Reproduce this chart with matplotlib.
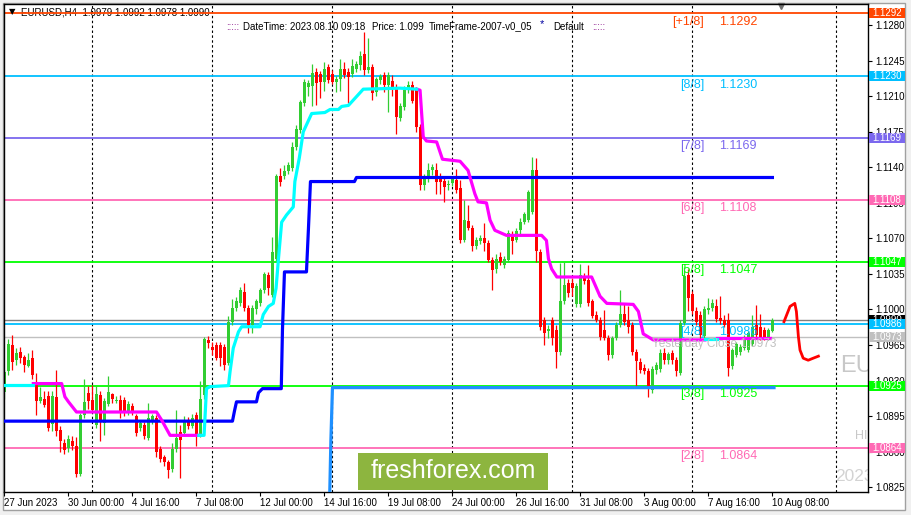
import numpy as np
import matplotlib
matplotlib.use('Agg')
import matplotlib.pyplot as plt
import matplotlib.transforms as mtransforms
from matplotlib.patches import Rectangle

# H4 candles, 27 Jun 2023 08:00 .. 10 Aug 2023 08:00
opens = [1.0919, 1.0939, 1.0965, 1.0950, 1.0958, 1.0953, 1.0944, 1.0952, 1.0927, 1.0910,
         1.0912, 1.0915, 1.0887, 1.0914, 1.0881, 1.0868, 1.0864, 1.0870, 1.0866, 1.0838,
         1.0896, 1.0918, 1.0911, 1.0886, 1.0916, 1.0888, 1.0907, 1.0917, 1.0910, 1.0911,
         1.0911, 1.0898, 1.0905, 1.0895, 1.0883, 1.0886, 1.0873, 1.0890, 1.0893, 1.0863,
         1.0855, 1.0850, 1.0843, 1.0863, 1.0879, 1.0878, 1.0891, 1.0885, 1.0896, 1.0876,
         1.0916, 1.0970, 1.0963, 1.0965, 1.0965, 1.0963, 1.0947, 1.0988, 1.1001, 1.1006,
         1.1017, 1.1001, 1.0985, 1.1000, 1.1006, 1.1019, 1.1034, 1.1014, 1.1050, 1.1131,
         1.1131, 1.1136, 1.1139, 1.1160, 1.1177, 1.1203, 1.1219, 1.1220, 1.1234, 1.1232,
         1.1224, 1.1239, 1.1232, 1.1224, 1.1227, 1.1237, 1.1234, 1.1232, 1.1237, 1.1241,
         1.1252, 1.1236, 1.1239, 1.1214, 1.1226, 1.1231, 1.1221, 1.1225, 1.1218, 1.1189,
         1.1199, 1.1216, 1.1221, 1.1216, 1.1180, 1.1123, 1.1130, 1.1137, 1.1137, 1.1131,
         1.1127, 1.1123, 1.1125, 1.1128, 1.1120, 1.1068, 1.1087, 1.1080, 1.1063, 1.1067,
         1.1070, 1.1065, 1.1049, 1.1040, 1.1052, 1.1044, 1.1049, 1.1074, 1.1068, 1.1078,
         1.1086, 1.1088, 1.1096, 1.1137, 1.1057, 1.0990, 1.0979, 1.0990, 1.0980, 1.0958,
         1.1008, 1.1026, 1.1026, 1.1005, 1.1005, 1.1032, 1.1029, 1.1008, 1.0995, 1.0990,
         1.0980, 1.0972, 1.0955, 1.0972, 1.0985, 1.0996, 1.0990, 1.0985, 1.0958, 1.0948,
         1.0942, 1.0939, 1.0921, 1.0940, 1.0941, 1.0957, 1.0950, 1.0957, 1.0950, 1.0937,
         1.0987, 1.1034, 1.1015, 1.0998, 1.0995, 1.0974, 1.0999, 1.1001, 1.1003, 1.0992,
         1.0990, 1.0990, 1.0944, 1.0955, 1.0958, 1.0962, 1.0960, 1.0966, 1.0985, 1.0983,
         1.0980, 1.0973, 1.0979]
highs = [1.0940, 1.0971, 1.0975, 1.0962, 1.0963, 1.0955, 1.0957, 1.0960, 1.0937, 1.0924,
         1.0920, 1.0920, 1.0920, 1.0940, 1.0885, 1.0872, 1.0876, 1.0875, 1.0874, 1.0898,
         1.0932, 1.0925, 1.0926, 1.0925, 1.0920, 1.0913, 1.0934, 1.0918, 1.0915, 1.0916,
         1.0914, 1.0910, 1.0908, 1.0897, 1.0891, 1.0889, 1.0908, 1.0897, 1.0896, 1.0866,
         1.0857, 1.0852, 1.0868, 1.0901, 1.0886, 1.0895, 1.0894, 1.0897, 1.0899, 1.0930,
         1.0973, 1.0974, 1.0968, 1.0968, 1.0968, 1.0966, 1.0994, 1.1010, 1.1012, 1.1022,
         1.1026, 1.1004, 1.1004, 1.1010, 1.1021, 1.1037, 1.1037, 1.1071, 1.1133, 1.1139,
         1.1142, 1.1145, 1.1165, 1.1182, 1.1206, 1.1227, 1.1226, 1.1242, 1.1238, 1.1235,
         1.1244, 1.1242, 1.1236, 1.1230, 1.1247, 1.1244, 1.1238, 1.1247, 1.1245, 1.1255,
         1.1273, 1.1267, 1.1242, 1.1229, 1.1232, 1.1234, 1.1234, 1.1231, 1.1222, 1.1203,
         1.1220, 1.1225, 1.1225, 1.1219, 1.1183, 1.1133, 1.1144, 1.1143, 1.1144, 1.1134,
         1.1130, 1.1128, 1.1131, 1.1138, 1.1128, 1.1108, 1.1103, 1.1083, 1.1071, 1.1073,
         1.1085, 1.1068, 1.1052, 1.1055, 1.1057, 1.1053, 1.1078, 1.1077, 1.1080, 1.1090,
         1.1096, 1.1118, 1.1150, 1.1149, 1.1060, 1.0993, 1.0985, 1.0993, 1.0985, 1.1046,
         1.1047, 1.1030, 1.1031, 1.1026, 1.1045, 1.1036, 1.1044, 1.1010, 1.0998, 1.0993,
         1.0999, 1.0975, 1.0974, 1.0988, 1.1019, 1.1006, 1.1003, 1.0988, 1.0961, 1.0952,
         1.0946, 1.0942, 1.0944, 1.0948, 1.0961, 1.0962, 1.0958, 1.0960, 1.0953, 1.0990,
         1.1042, 1.1040, 1.1018, 1.1002, 1.0998, 1.1003, 1.1011, 1.1010, 1.1010, 1.1013,
         1.0995, 1.0997, 1.0962, 1.0968, 1.0966, 1.0975, 1.0979, 1.0995, 1.1004, 1.0996,
         1.0983, 1.0982, 1.0992]
lows = [1.0912, 1.0935, 1.0940, 1.0945, 1.0947, 1.0938, 1.0943, 1.0932, 1.0896, 1.0908,
        1.0904, 1.0880, 1.0880, 1.0875, 1.0860, 1.0858, 1.0860, 1.0862, 1.0835, 1.0836,
        1.0893, 1.0902, 1.0899, 1.0883, 1.0870, 1.0876, 1.0905, 1.0908, 1.0908, 1.0893,
        1.0895, 1.0896, 1.0896, 1.0875, 1.0880, 1.0872, 1.0871, 1.0887, 1.0855, 1.0850,
        1.0846, 1.0834, 1.0840, 1.0860, 1.0834, 1.0875, 1.0882, 1.0883, 1.0866, 1.0874,
        1.0912, 1.0962, 1.0955, 1.0950, 1.0944, 1.0940, 1.0945, 1.0985, 1.0998, 1.1003,
        1.0998, 1.0977, 1.0977, 1.0996, 1.1003, 1.1016, 1.1014, 1.1012, 1.1048, 1.1122,
        1.1129, 1.1133, 1.1136, 1.1157, 1.1174, 1.1200, 1.1210, 1.1200, 1.1201, 1.1208,
        1.1215, 1.1223, 1.1222, 1.1214, 1.1215, 1.1228, 1.1203, 1.1229, 1.1234, 1.1236,
        1.1231, 1.1233, 1.1206, 1.1210, 1.1222, 1.1214, 1.1195, 1.1210, 1.1173, 1.1186,
        1.1196, 1.1213, 1.1203, 1.1175, 1.1118, 1.1118, 1.1126, 1.1132, 1.1114, 1.1114,
        1.1106, 1.1118, 1.1122, 1.1115, 1.1065, 1.1066, 1.1078, 1.1058, 1.1060, 1.1064,
        1.1058, 1.1047, 1.1019, 1.1036, 1.1044, 1.1041, 1.1047, 1.1055, 1.1066, 1.1072,
        1.1084, 1.1086, 1.1094, 1.1047, 1.0980, 1.0965, 1.0972, 1.0965, 1.0942, 1.0955,
        1.1005, 1.1012, 1.1013, 1.1002, 1.1002, 1.1025, 1.1003, 1.0992, 1.0988, 1.0970,
        1.0970, 1.0950, 1.0952, 1.0970, 1.0983, 1.0985, 1.0977, 1.0955, 1.0925, 1.0937,
        1.0936, 1.0914, 1.0918, 1.0936, 1.0938, 1.0946, 1.0946, 1.0946, 1.0934, 1.0935,
        1.0985, 1.0998, 1.0996, 1.0985, 1.0970, 1.0972, 1.0996, 1.0998, 1.0988, 1.0986,
        1.0983, 1.0934, 1.0941, 1.0953, 1.0955, 1.0960, 1.0958, 1.0964, 1.0972, 1.0970,
        1.0970, 1.0970, 1.0978]
closes = [1.0938, 1.0966, 1.0948, 1.0957, 1.0952, 1.0945, 1.0950, 1.0935, 1.0910, 1.0914,
          1.0906, 1.0883, 1.0915, 1.0880, 1.0870, 1.0862, 1.0872, 1.0866, 1.0838, 1.0896,
          1.0909, 1.0910, 1.0901, 1.0917, 1.0889, 1.0910, 1.0919, 1.0912, 1.0911, 1.0898,
          1.0899, 1.0907, 1.0899, 1.0878, 1.0888, 1.0875, 1.0893, 1.0895, 1.0860, 1.0853,
          1.0850, 1.0842, 1.0863, 1.0873, 1.0871, 1.0891, 1.0885, 1.0893, 1.0876, 1.0912,
          1.0971, 1.0967, 1.0960, 1.0952, 1.0952, 1.0945, 1.0988, 1.1001, 1.1008, 1.1019,
          1.1001, 1.0985, 1.1001, 1.1008, 1.1019, 1.1035, 1.1021, 1.1057, 1.1131, 1.1126,
          1.1136, 1.1142, 1.1160, 1.1178, 1.1204, 1.1224, 1.1223, 1.1233, 1.1223, 1.1224,
          1.1237, 1.1226, 1.1224, 1.1227, 1.1237, 1.1231, 1.1229, 1.1240, 1.1242, 1.1250,
          1.1236, 1.1239, 1.1213, 1.1227, 1.1230, 1.1221, 1.1231, 1.1218, 1.1190, 1.1200,
          1.1216, 1.1221, 1.1205, 1.1180, 1.1123, 1.1129, 1.1137, 1.1140, 1.1126, 1.1126,
          1.1121, 1.1124, 1.1129, 1.1118, 1.1068, 1.1088, 1.1080, 1.1063, 1.1068, 1.1070,
          1.1065, 1.1049, 1.1039, 1.1050, 1.1047, 1.1050, 1.1075, 1.1067, 1.1077, 1.1086,
          1.1094, 1.1116, 1.1137, 1.1058, 1.0983, 1.0977, 1.0981, 1.0972, 1.0958, 1.1008,
          1.1024, 1.1016, 1.1021, 1.1023, 1.1034, 1.1028, 1.1006, 1.0994, 1.0990, 1.0973,
          1.0972, 1.0955, 1.0972, 1.0985, 1.0996, 1.0988, 1.0983, 1.0958, 1.0949, 1.0940,
          1.0939, 1.0924, 1.0941, 1.0945, 1.0957, 1.0950, 1.0956, 1.0950, 1.0939, 1.0987,
          1.1033, 1.1011, 1.0998, 1.0988, 1.0975, 1.1000, 1.1001, 1.1006, 1.0991, 1.0989,
          1.0985, 1.0942, 1.0960, 1.0966, 1.0963, 1.0972, 1.0977, 1.0983, 1.0975, 1.0973,
          1.0973, 1.0980, 1.0990]

# x tick labels every 16 bars
tick_bars = [0, 16, 32, 48, 64, 80, 96, 112, 128, 144, 160, 176, 192]
tick_labels = ['27 Jun 2023', '30 Jun 00:00', '4 Jul 16:00', '7 Jul 08:00', '12 Jul 00:00',
               '14 Jul 16:00', '19 Jul 08:00', '24 Jul 00:00', '26 Jul 16:00', '31 Jul 08:00',
               '3 Aug 00:00', '7 Aug 16:00', '10 Aug 08:00']
separators = [22, 52, 82, 112, 142, 172, 208]

# murrey math levels
mm_levels = [1.1292, 1.1230, 1.1169, 1.1108, 1.1047, 1.0986, 1.0925, 1.0864]
mm_names = ['[+1/8]', '[8/8]', '[7/8]', '[6/8]', '[5/8]', '[4/8]', '[3/8]', '[2/8]']
mm_colors = ['#FF4500', '#00BFFF', '#7B68EE', '#FF69B4', '#00FF00', '#00BFFF', '#00FF00', '#FF69B4']
bid_price = 1.0990
yday_close = 1.0973

# indicator lines as (bar, price) vertices
blue_x = [-0.5, 57.0, 57.5, 58.0, 63.0, 63.5, 64.5, 69.2, 69.5, 70.0, 75.5, 76.0, 76.5, 87.5, 88.0, 192.4]
blue_y = [1.0890, 1.0890, 1.0900, 1.0909, 1.0909, 1.0918, 1.0922, 1.0922, 1.0980, 1.1037,
          1.1037, 1.1080, 1.1126, 1.1126, 1.1130, 1.1130]
dblue_x = [81.3, 81.6, 82.0, 192.4]
dblue_y = [1.0815, 1.0870, 1.0923, 1.0923]
cyan_parts = [
    ([-0.5, 7.2], [1.0926, 1.0926]),
    ([48.6, 49.9, 50.5, 51.4, 56.0, 56.4, 57.2, 58.5, 59.3, 63.9, 64.7, 66.0, 67.2, 67.9, 68.5,
      69.3, 70.5, 72.2, 72.6, 73.7, 74.7, 76.8, 80.1, 81.4, 83.5, 84.3, 86.0, 89.7, 98.9, 103.05],
     [1.0876, 1.0876, 1.0922, 1.0924, 1.0925, 1.0939, 1.0962, 1.0978, 1.0983, 1.0983, 1.0995,
      1.1003, 1.1006, 1.1021, 1.1050, 1.1086, 1.1093, 1.1101, 1.1126, 1.1149, 1.1175, 1.1193,
      1.1194, 1.1197, 1.1197, 1.1200, 1.1201, 1.1217, 1.1218, 1.1217]),
    ([175.1, 178.1], [1.0971, 1.0971]),
]
magenta_parts = [
    ([7.2, 14.3, 15.1, 16.0, 18.0, 38.0, 39.3, 41.4, 48.9],
     [1.0927, 1.0927, 1.0914, 1.0909, 1.0899, 1.0899, 1.0891, 1.0876, 1.0876]),
    ([103.05, 103.9, 104.7, 105.5, 108.05, 109.5, 113.9, 115.9, 117.6, 118.4, 120.5, 121.4,
      122.6, 125.5, 134.3, 135.5, 136.0, 136.8, 138.1, 146.8, 148.9, 150.6, 157.2, 158.5,
      159.7, 162.2, 175.1],
     [1.1217, 1.1216, 1.1170, 1.1166, 1.1165, 1.1148, 1.1146, 1.1137, 1.1114, 1.1106, 1.1105,
      1.1088, 1.1078, 1.1073, 1.1073, 1.1068, 1.1050, 1.1040, 1.1032, 1.1032, 1.1013, 1.1006,
      1.1005, 1.0998, 1.0976, 1.0970, 1.0970]),
    ([178.1, 191.4], [1.0972, 1.0972]),
]
# hand drawn red curve right of the last bar
curve_x = [194.9, 196.4, 197.6, 198.0, 198.5, 198.9, 199.7, 200.95, 202.2, 203.5]
curve_y = [1.0988, 1.1003, 1.1006, 1.0998, 1.0973, 1.0960, 1.0952, 1.0950, 1.0952, 1.0954]

ytick_vals = [1.0825, 1.0860, 1.0895, 1.0930, 1.0965, 1.1000, 1.1035, 1.1070, 1.1105,
              1.1140, 1.1175, 1.1210, 1.1245, 1.1280]

W, H = 911, 515
FONT = ['Liberation Sans', 'DejaVu Sans']
plt.rcParams['font.family'] = FONT

fig = plt.figure(figsize=(W / 100, H / 100), dpi=100)
fig.patch.set_facecolor('#F0F0F0')
fig.patches.append(Rectangle((3 / W, 1 - 510 / H), 902 / W, 507 / H, transform=fig.transFigure,
                             facecolor='white', edgecolor='#A0A0A0', lw=1, zorder=-10))

ax_l, ax_r, ax_t, ax_b = 4, 868, 4, 492
ax = fig.add_axes([ax_l / W, 1 - ax_b / H, (ax_r - ax_l) / W, (ax_b - ax_t) / H])
ax.set_zorder(1)
ax.set_xlim(-0.125, 215.9)
ax.set_ylim(1.08202, 1.13009)

# pixel transform, origin top-left of the figure
px = mtransforms.Affine2D().scale(1 / 100, -1 / 100).translate(0, H / 100) + fig.dpi_scale_trans
ay = mtransforms.blended_transform_factory(ax.transAxes, ax.transData)

for s in separators:
    ax.axvline(s, color='black', lw=0.8, dashes=(2.2, 2.2), zorder=0.5)

for lv, c in zip(mm_levels, mm_colors):
    ax.axhline(lv, color=c, lw=1.3, zorder=1)
ax.axhline(bid_price, color='#808080', lw=1.0, zorder=1)
ax.axhline(yday_close, color='#C0C0C0', lw=1.0, zorder=1)

# candles
o = np.array(opens); h = np.array(highs); l = np.array(lows); c = np.array(closes)
idx = np.arange(len(o))
cols = np.where(c >= o, '#32CD32', '#FF0000')
ax.vlines(idx, l, h, colors=cols, lw=0.9, zorder=2)
body = np.maximum(np.abs(c - o), 0.00008)
ax.bar(idx, body, bottom=np.minimum(o, c), width=0.72, color=cols, linewidth=0, zorder=2.1)

# indicators
ax.plot(blue_x, blue_y, color='#0000FF', lw=2.3, zorder=3, solid_capstyle='butt')
ax.plot(dblue_x, dblue_y, color='#1E90FF', lw=2.3, zorder=3)
for xs, ys in magenta_parts:
    ax.plot(xs, ys, color='#FF00FF', lw=2.3, zorder=3)
for xs, ys in cyan_parts:
    ax.plot(xs, ys, color='#00FFFF', lw=2.3, zorder=3.1)
ax.plot(curve_x, curve_y, color='#FF0000', lw=2.0, zorder=3)

# murrey labels
for lv, nm, cl in zip(mm_levels, mm_names, mm_colors):
    ax.text(174.9, lv - 0.00084, nm, color=cl, fontsize=9, ha='right', va='center', zorder=4)
    ax.text(178.6, lv - 0.00084, '%.4f' % lv, color=cl, fontsize=9, ha='left', va='center', zorder=4)
ax.text(162.0, 1.0966, 'Yesterday Close %.4f' % yday_close, color='#C0C0C0', fontsize=8.5,
        ha='left', va='center', zorder=4)

# faded texts clipped by the right edge
ax.text(208.9, 1.0944, 'EURUSD', color='#C8C8C8', fontsize=17, ha='left', va='center',
        zorder=1.5, clip_on=True)
ax.text(212.6, 1.0875, 'HIGH', color='#C8C8C8', fontsize=9, ha='left', va='center',
        zorder=1.5, clip_on=True)
ax.text(207.8, 1.0835, '2023', color='#D3D3D3', fontsize=12.5, ha='left', va='center',
        zorder=1.5, clip_on=True)

# axes styling
for sp in ax.spines.values():
    sp.set_color('black')
    sp.set_linewidth(1)
ax.yaxis.tick_right()
ax.set_yticks(ytick_vals)
ax.set_yticklabels(['%.4f' % v for v in ytick_vals])
ax.tick_params(axis='y', length=3, width=0.8, labelsize=7, pad=2, colors='black')
ax.set_xticks(tick_bars)
ax.set_xticklabels(tick_labels, ha='left')
ax.tick_params(axis='x', length=3, width=0.8, labelsize=7, pad=1.5, colors='black')

# price tags on the right scale
tags = [(1.1292, '#FF4500'), (1.1230, '#00BFFF'), (1.1169, '#7B68EE'), (1.1108, '#FF69B4'),
        (1.1047, '#00FF00'), (bid_price, '#000000'), (1.0986, '#00BFFF'), (yday_close, '#C0C0C0'),
        (1.0925, '#00FF00'), (1.0864, '#FF69B4')]
tag_h = 10 * 0.0000985
for k, (lv, cl) in enumerate(tags):
    ax.add_patch(Rectangle((1 + 1 / 864, lv - tag_h / 2), 36 / 864, tag_h, transform=ay,
                           facecolor=cl, edgecolor='none', clip_on=False, zorder=5 + k * 0.01))
    ax.text(1 + 19 / 864, lv, '%.4f' % lv, transform=ay, color='white', fontsize=7,
            ha='center', va='center', clip_on=False, zorder=5.005 + k * 0.01)

# header texts
ax.text(12, 12, '\u25bc', transform=px, fontsize=6, color='black', ha='center', va='center',
        family=['DejaVu Sans'], zorder=2.5)
ax.text(21, 15.5, 'EURUSD,H4  1.0979 1.0992 1.0978 1.0990', transform=px, fontsize=7,
        color='black', ha='left', va='baseline', zorder=0.8)
hdr = [(226, ':::::', '#800080'), (243, 'DateTime: 2023.08.10 09:18', 'black'),
       (372, 'Price: 1.099', 'black'), (429, 'TimeFrame-2007-v0_05', 'black'),
       (553, 'Default', 'black'), (592, ':::::', '#800080')]
for hx, ht, hc in hdr:
    ax.text(hx, 29.5, ht, transform=px, fontsize=7, color=hc, ha='left', va='baseline')
ax.text(542, 24, '*', transform=px, fontsize=8, color='#0000A0', ha='center', va='center')
ax.plot([781], [6], transform=px, marker='v', color='#707070', ms=5, clip_on=False)

# watermark
ax.add_patch(Rectangle((358, 490), 190, -37, transform=px, facecolor='#8DB53F',
                       edgecolor='none', clip_on=False, zorder=6))
ax.text(453, 471, 'freshforex.com', transform=px, fontsize=18, color='white',
        ha='center', va='center', zorder=6.1)

fig.savefig('out.png', dpi=100, facecolor=fig.get_facecolor())
